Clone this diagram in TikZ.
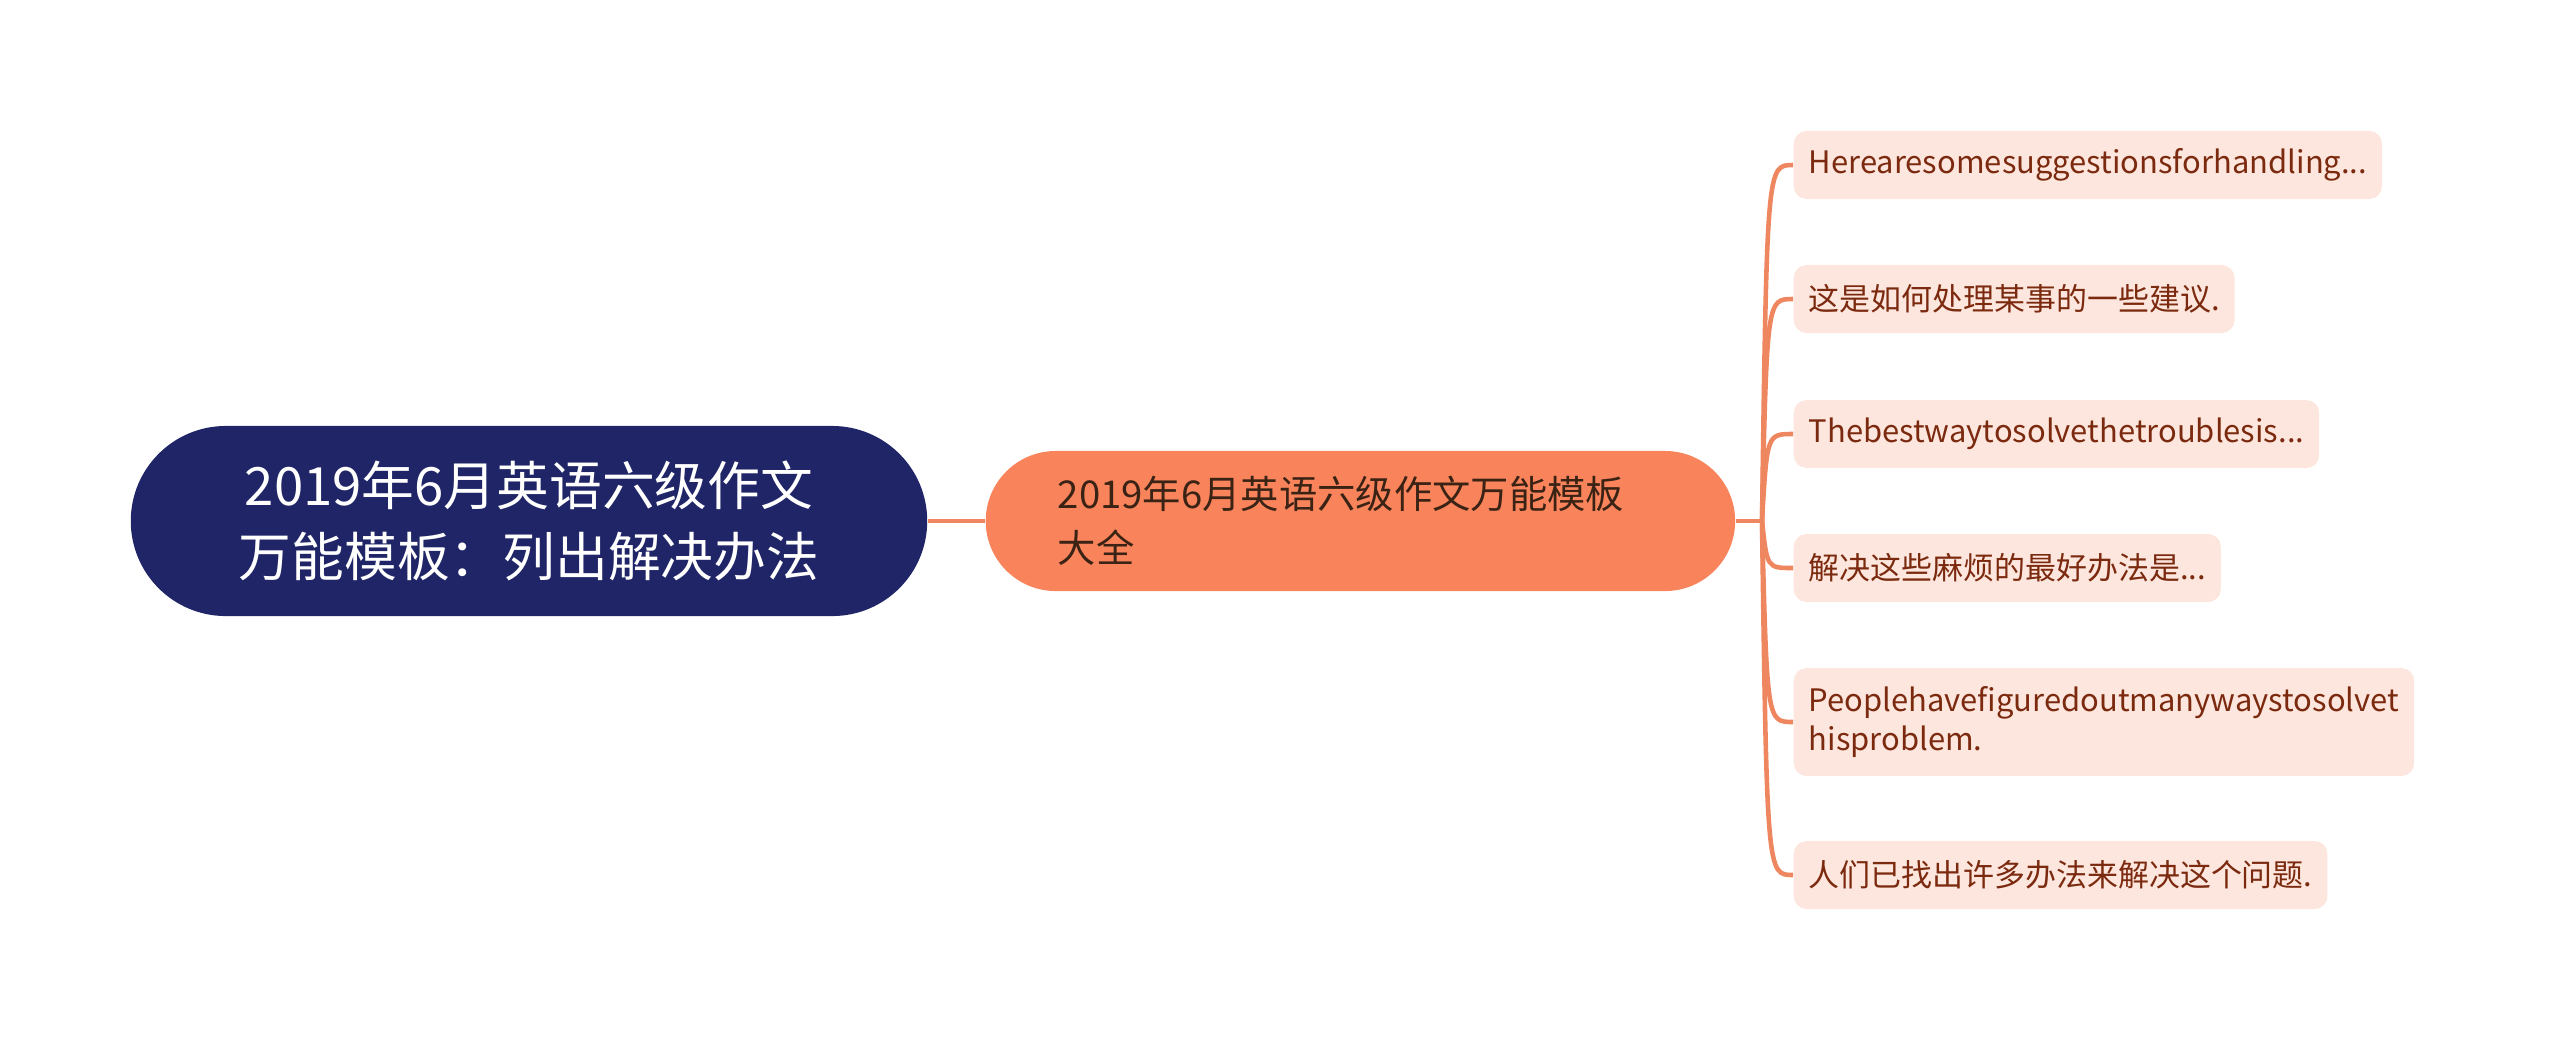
\documentclass[tikz,border=0pt]{standalone}
\usepackage{fontspec}
\setmainfont{Noto Sans CJK SC}
\usetikzlibrary{positioning}
\definecolor{rootblue}{HTML}{1F2566}
\definecolor{midorange}{HTML}{F9845B}
\definecolor{linkorange}{HTML}{EE8660}
\definecolor{leafpink}{HTML}{FDE6DD}
\definecolor{leaftext}{HTML}{7B2A0F}
\definecolor{midtext}{HTML}{3A2315}

\begin{document}
\begin{tikzpicture}[x=0.01cm, y=-0.01cm,
		root/.style={fill=rootblue, text=white, rounded corners=0.95cm, minimum width=7.96cm, minimum height=1.9cm, align=center, font=\fontsize{15}{20}\selectfont},
		mid/.style={fill=midorange, text=midtext, rounded corners=0.7cm, anchor=west, inner xsep=0.72cm, text width=6.05cm, minimum height=1.4cm, align=left, font=\fontsize{10.9}{15.4}\selectfont},
		leaf/.style={fill=leafpink, text=leaftext, rounded corners=0.13cm, anchor=west, inner xsep=0.15cm, minimum height=0.68cm, align=left, font=\fontsize{8.8}{11.2}\selectfont},
		link/.style={draw=linkorange, line width=1.3pt}]
		\useasboundingbox (0,0) rectangle (2560,1041);
		% main topics
		\node[root] (root) at (529,521) {2019年6月英语六级作文\\万能模板：列出解决办法};
		\node[mid] (mid) at (985,521) {2019年6月英语六级作文万能模板\\大全};
		% leaves
		\node[leaf] (l1) at (1793,165) {Herearesomesuggestionsforhandling...};
		\node[leaf] (l2) at (1793,299) {这是如何处理某事的一些建议.};
		\node[leaf] (l3) at (1793,434) {Thebestwaytosolvethetroublesis...};
		\node[leaf] (l4) at (1793,568) {解决这些麻烦的最好办法是...};
		\node[leaf, minimum height=1.08cm] (l5) at (1793,722) {Peoplehavefiguredoutmanywaystosolvet\\hisproblem.};
		\node[leaf] (l6) at (1793,875) {人们已找出许多办法来解决这个问题.};
		% connectors
		\coordinate (hub) at (1762,521);
		\draw[link] (root) -- (mid);
		\draw[link] (mid) -- (hub);
		\foreach \n in {1,...,6}
			\draw[link] (hub) .. controls ([xshift=0.05cm]hub |- l\n.west) .. (l\n.west);
	\end{tikzpicture}
\end{document}
